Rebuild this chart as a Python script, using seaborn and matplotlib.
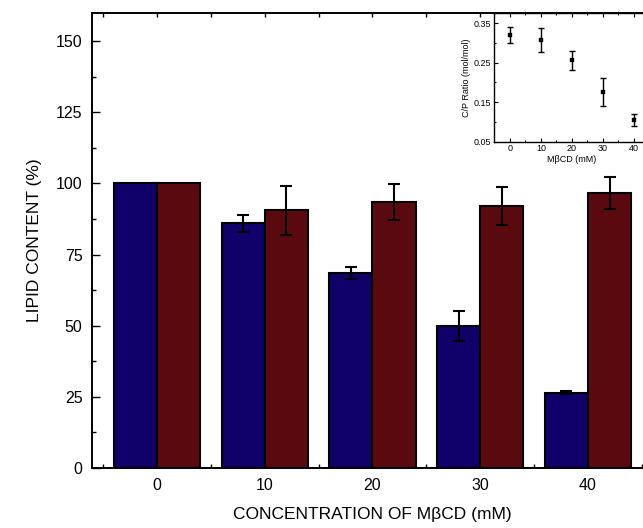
import numpy as np
import pandas as pd
import seaborn as sns
import matplotlib.pyplot as plt
from matplotlib.ticker import MultipleLocator

# main chart data
concentrations = ["0", "10", "20", "30", "40"]
series_names = ["A", "B"]
lipid_a = [100, 86, 68.5, 50, 26.5]
lipid_a_err = [0, 3, 2, 5.3, 0.6]
lipid_b = [100, 90.5, 93.5, 92, 96.8]
lipid_b_err = [0, 8.6, 6.3, 6.7, 5.6]

# inset data
inset_conc = [0, 10, 20, 30, 40]
cp_ratio = [0.320, 0.307, 0.256, 0.175, 0.106]
cp_err = [0.020, 0.030, 0.024, 0.035, 0.015]

sns.set_style("ticks")
plt.rcParams["font.family"] = ["Liberation Sans", "DejaVu Sans"]
for key in ["text.color", "axes.labelcolor", "xtick.color", "ytick.color", "axes.edgecolor"]:
    plt.rcParams[key] = "black"

df = pd.DataFrame({
    "conc": concentrations * 2,
    "series": [series_names[0]] * 5 + [series_names[1]] * 5,
    "lipid": lipid_a + lipid_b,
})

fig = plt.figure(figsize=(6.43, 5.28), dpi=100)
ax = fig.add_axes([0.1435, 0.1136, 0.8716, 0.8623])

sns.barplot(data=df, x="conc", y="lipid", hue="series", order=concentrations,
            palette=["#10006a", "#5a0a0f"], saturation=1, edgecolor="black",
            linewidth=1.5, errorbar=None, legend=False, ax=ax)

# error bars on top of bars
for cont, errs in zip(ax.containers, [lipid_a_err, lipid_b_err]):
    xs, ys, es = [], [], []
    for bar, e in zip(cont, errs):
        if e > 0:
            xs.append(bar.get_x() + bar.get_width() / 2)
            ys.append(bar.get_height())
            es.append(e)
    ax.errorbar(xs, ys, yerr=es, fmt="none", ecolor="black", elinewidth=1.5,
                capsize=4, capthick=1.5, zorder=5)

ax.set_xlim(-0.6, 4.6)
ax.set_ylim(0, 160)
ax.yaxis.set_major_locator(MultipleLocator(25))
ax.yaxis.set_minor_locator(MultipleLocator(12.5))
ax.set_xticks(np.arange(-0.5, 5, 1), minor=True)
ax.tick_params(which="both", direction="in", top=True, right=True,
               labelsize=11.5, width=1)
ax.tick_params(which="major", length=6, pad=7)
ax.tick_params(which="minor", length=3)
ax.tick_params(axis="x", which="major", length=3)
for s in ax.spines.values():
    s.set_linewidth(1.4)
ax.set_xlabel("CONCENTRATION OF M\u03b2CD (mM)", fontsize=12.5, labelpad=10)
ax.set_ylabel("LIPID CONTENT (%)", fontsize=12.5, labelpad=10)

# inset
axi = fig.add_axes([0.7687, 0.7316, 0.2414, 0.2432])
axi.errorbar(inset_conc, cp_ratio, yerr=cp_err, fmt="none", ecolor="black",
             elinewidth=1, capsize=2, capthick=1)
sns.scatterplot(x=inset_conc, y=cp_ratio, marker="s", color="black", s=10,
                edgecolor="black", ax=axi, zorder=5)
axi.set_xlim(-5, 45)
axi.set_ylim(0.05, 0.375)
axi.set_xticks([0, 10, 20, 30, 40])
axi.set_yticks([0.05, 0.15, 0.25, 0.35])
axi.xaxis.set_minor_locator(MultipleLocator(5))
axi.yaxis.set_minor_locator(MultipleLocator(0.05))
axi.tick_params(which="both", direction="in", top=True, right=True,
                labelsize=6.5, width=0.8, pad=2)
axi.tick_params(which="major", length=3)
axi.tick_params(which="minor", length=1.5)
for s in axi.spines.values():
    s.set_linewidth(1)
axi.set_xlabel("M\u03b2CD (mM)", fontsize=6.5, labelpad=1)
axi.set_ylabel("C/P Ratio (mol/mol)", fontsize=6.5, labelpad=2)

fig.savefig("out.png", dpi=100)
